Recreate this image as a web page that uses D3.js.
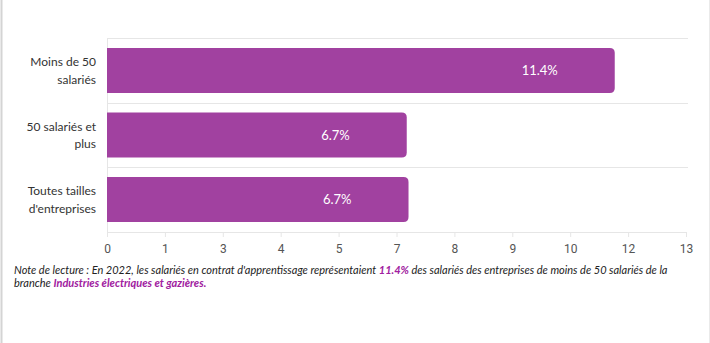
<!DOCTYPE html>
<html>
<head>
<meta charset="utf-8">
<script src="https://cdn.jsdelivr.net/npm/d3@7"></script>
<style>
  html, body { margin: 0; padding: 0; background: #fff; }
  #chart { width: 710px; height: 343px; position: relative; }
</style>
</head>
<body>
<div id="chart"></div>
<script>
// data
const categories = [["Moins de 50", "salariés"], ["50 salariés et", "plus"], ["Toutes tailles", "d'entreprises"]];
const values = [11.4, 6.73, 6.77];
const valueLabels = ["11.4%", "6.7%", "6.7%"];
const xTicks = [0, 1.3, 2.6, 3.9, 5.2, 6.5, 7.8, 9.1, 10.4, 11.7, 13];
const xTickLabels = ["0", "1", "3", "4", "5", "7", "8", "9", "10", "12", "13"];

let width = 710, height = 343;
let svg = d3.select("#chart").append("svg")
    .attr("width", width)
    .attr("height", height);

// card side borders
svg.append("rect").attr("x", 0).attr("y", -4).attr("width", 709).attr("height", height + 8)
    .attr("fill", "none").attr("stroke", "#d4d4d4").attr("stroke-width", 2).attr("transform", "translate(1.5,0)");

let x = d3.scaleLinear().domain([0, 13]).range([107, 686]);
let keys = categories.map((c, i) => i);
let y = d3.scaleBand().domain(keys).range([38, 232]).paddingInner(0.304).paddingOuter(0.155);

// grid lines
let gridYs = [38].concat(keys.slice(1).map(k => y(k) - y.step() * y.paddingInner() / 2));
svg.selectAll("line.grid").data(gridYs).enter().append("line")
    .attr("x1", 107).attr("x2", 688)
    .attr("y1", d => Math.round(d) + 0.5).attr("y2", d => Math.round(d) + 0.5)
    .attr("stroke", "#e6e6e6");
svg.append("line").attr("x1", 107.5).attr("x2", 107.5).attr("y1", 38).attr("y2", 232)
    .attr("stroke", "#e6e6e6");

// x axis
let xAxis = svg.append("g").attr("transform", "translate(0,232)")
    .call(d3.axisBottom(x).tickValues(xTicks).tickFormat((d, i) => xTickLabels[i]).tickSize(5).tickSizeOuter(0));
xAxis.select(".domain").attr("stroke", "#e6e6e6");
xAxis.selectAll(".tick line").attr("stroke", "#e6e6e6");
xAxis.selectAll(".tick text").attr("fill", "#555").attr("font-family", "Roboto, sans-serif")
    .attr("font-size", 12).attr("dy", "1.05em");

// bars with rounded right end
function barPath(x0, x1, y0, h, r) {
    return `M${x0},${y0}H${x1 - r}Q${x1},${y0} ${x1},${y0 + r}V${y0 + h - r}Q${x1},${y0 + h} ${x1 - r},${y0 + h}H${x0}Z`;
}
svg.selectAll("path.bar").data(values).enter().append("path")
    .attr("class", "bar")
    .attr("d", (d, i) => barPath(x(0), x(d), y(i), y.bandwidth(), 5))
    .attr("fill", "#a141a0");

svg.selectAll("text.val").data(values).enter().append("text")
    .attr("x", d => x(d) - 57)
    .attr("y", (d, i) => y(i) + y.bandwidth() / 2)
    .attr("dy", "0.35em")
    .attr("text-anchor", "end")
    .attr("fill", "#fff")
    .attr("font-family", "Lato, sans-serif")
    .attr("font-size", 13)
    .text((d, i) => valueLabels[i]);

// category labels
categories.forEach((c, i) => {
    let t = svg.append("text")
        .attr("x", 96)
        .attr("y", y(i) + y.bandwidth() / 2)
        .attr("text-anchor", "end")
        .attr("fill", "#333")
        .attr("font-family", "Lato, sans-serif")
        .attr("font-size", 12);
    c.forEach((line, j) => {
        t.append("tspan").attr("x", 96).attr("dy", j === 0 ? "-0.35em" : "1.45em").text(line);
    });
});

// reading note
let note = svg.append("text").attr("font-family", "Lato, sans-serif").attr("font-style", "italic")
    .attr("font-size", 11).attr("fill", "#222");
let l1 = note.append("tspan").attr("x", 14).attr("y", 274);
l1.append("tspan").text("Note de lecture : En 2022, les salariés en contrat d'apprentissage représentaient ");
l1.append("tspan").attr("font-weight", "bold").attr("fill", "#a020a0").text("11.4%");
l1.append("tspan").text(" des salariés des entreprises de moins de 50 salariés de la");
let l2 = note.append("tspan").attr("x", 14).attr("y", 287);
l2.append("tspan").text("branche ");
l2.append("tspan").attr("font-weight", "bold").attr("fill", "#a020a0").text("Industries électriques et gazières.");
</script>
</body>
</html>
